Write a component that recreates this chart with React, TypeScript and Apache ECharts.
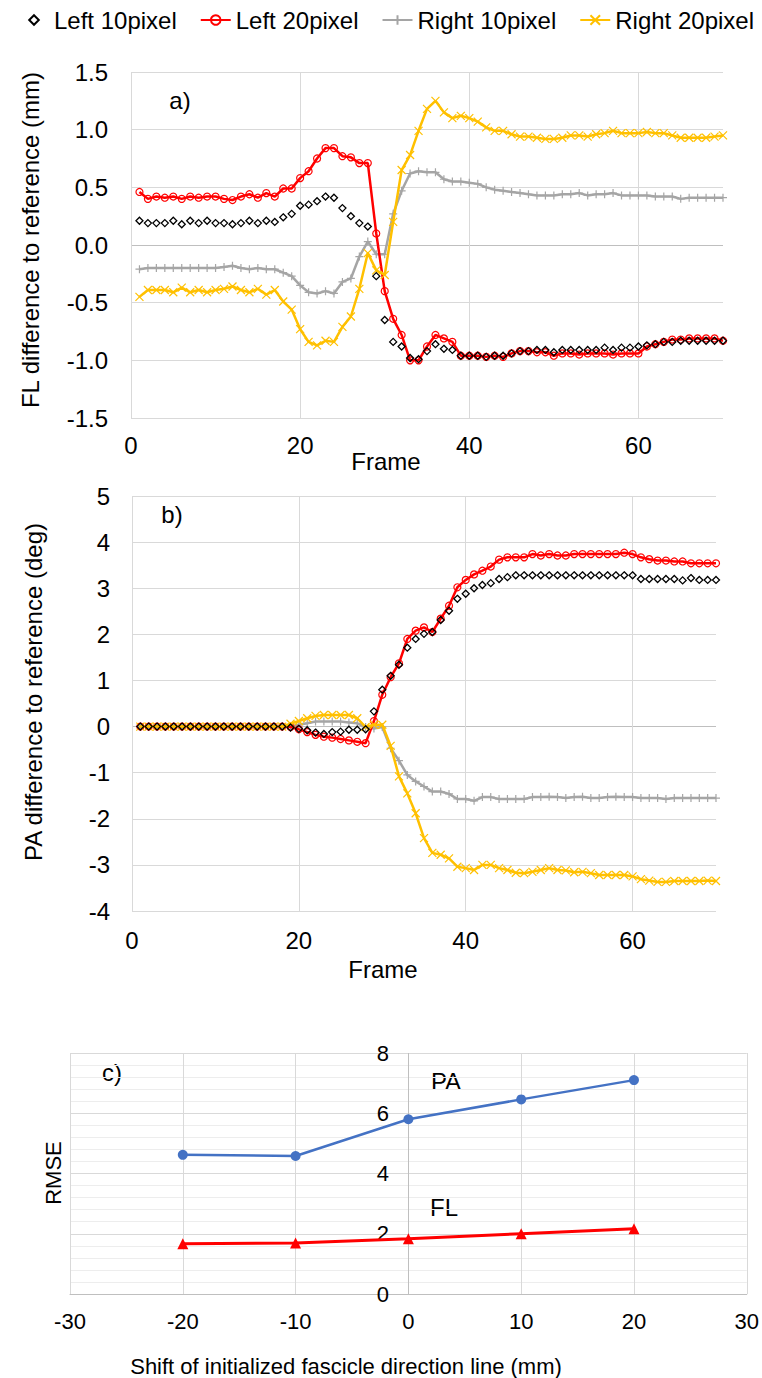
import React, { useEffect, useRef } from "react";
import * as echarts from "echarts";

const FONT = "'Liberation Sans', Arial, sans-serif";

const FRAMES = [
  1, 2, 3, 4, 5, 6, 7, 8, 9, 10, 11, 12, 13, 14, 15, 16, 17, 18, 19, 20,
  21, 22, 23, 24, 25, 26, 27, 28, 29, 30, 31, 32, 33, 34, 35, 36, 37, 38, 39, 40,
  41, 42, 43, 44, 45, 46, 47, 48, 49, 50, 51, 52, 53, 54, 55, 56, 57, 58, 59, 60,
  61, 62, 63, 64, 65, 66, 67, 68, 69, 70,
];

const SERIES_NAMES = ["Left 10pixel", "Left 20pixel", "Right 10pixel", "Right 20pixel"];

// a) FL difference to reference (mm)
const FL_L10 = [
  0.21, 0.19, 0.19, 0.19, 0.21, 0.18, 0.21, 0.19, 0.21, 0.19,
  0.19, 0.18, 0.19, 0.21, 0.19, 0.21, 0.2, 0.24, 0.27, 0.34,
  0.35, 0.38, 0.42, 0.41, 0.32, 0.25, 0.19, 0.16, -0.27, -0.65,
  -0.84, -0.88, -0.98, -0.99, -0.92, -0.86, -0.9, -0.91, -0.96, -0.96,
  -0.96, -0.97, -0.96, -0.96, -0.94, -0.92, -0.92, -0.91, -0.91, -0.93,
  -0.91, -0.91, -0.91, -0.91, -0.91, -0.89, -0.91, -0.89, -0.89, -0.88,
  -0.87, -0.86, -0.84, -0.84, -0.83, -0.83, -0.83, -0.83, -0.83, -0.83,
];
const FL_L20 = [
  0.46, 0.4, 0.42, 0.41, 0.42, 0.4, 0.42, 0.41, 0.42, 0.42,
  0.4, 0.39, 0.42, 0.44, 0.41, 0.45, 0.42, 0.49, 0.49, 0.58,
  0.64, 0.75, 0.84, 0.84, 0.77, 0.76, 0.71, 0.71, 0.1, -0.4,
  -0.64, -0.78, -1.0, -1.0, -0.88, -0.78, -0.81, -0.84, -0.96, -0.96,
  -0.96, -0.97, -0.96, -0.97, -0.94, -0.92, -0.92, -0.93, -0.93, -0.96,
  -0.94, -0.94, -0.95, -0.94, -0.94, -0.94, -0.95, -0.94, -0.94, -0.94,
  -0.88, -0.86, -0.84, -0.82, -0.82, -0.81, -0.81, -0.81, -0.81, -0.83,
];
const FL_R10 = [
  -0.21, -0.2, -0.2, -0.2, -0.2, -0.2, -0.2, -0.2, -0.2, -0.2,
  -0.19, -0.18, -0.2, -0.21, -0.2, -0.21, -0.21, -0.24, -0.27, -0.35,
  -0.41, -0.42, -0.4, -0.42, -0.32, -0.29, -0.1, 0.03, -0.08, -0.08,
  0.27, 0.47, 0.62, 0.64, 0.63, 0.63, 0.57, 0.55, 0.55, 0.54,
  0.53, 0.5, 0.48, 0.47, 0.46, 0.45, 0.44, 0.43, 0.43, 0.43,
  0.44, 0.44, 0.45, 0.43, 0.44, 0.44, 0.45, 0.43, 0.43, 0.43,
  0.43, 0.42, 0.42, 0.42, 0.4, 0.41, 0.41, 0.41, 0.41, 0.41,
];
const FL_R20 = [
  -0.45, -0.39, -0.39, -0.39, -0.41, -0.37, -0.41, -0.39, -0.41, -0.39,
  -0.38, -0.36, -0.39, -0.41, -0.38, -0.43, -0.39, -0.49, -0.56, -0.73,
  -0.84, -0.87, -0.83, -0.84, -0.71, -0.62, -0.38, -0.07, -0.22, -0.26,
  0.2, 0.65, 0.78, 0.99, 1.18, 1.25, 1.15, 1.1, 1.12, 1.1,
  1.07, 1.02, 0.99, 0.99, 0.96, 0.94, 0.94, 0.93, 0.92, 0.92,
  0.93, 0.95, 0.95, 0.94, 0.96, 0.97, 0.99, 0.97, 0.97, 0.97,
  0.98, 0.97, 0.97, 0.95, 0.93, 0.93, 0.93, 0.93, 0.94, 0.95,
];

// b) PA difference to reference (deg)
const PA_L10 = [
  0, 0, 0, 0, 0, 0, 0, 0, 0, 0,
  0, 0, 0, 0, 0, 0, 0, 0, -0.02, -0.05,
  -0.08, -0.13, -0.16, -0.12, -0.11, -0.07, -0.07, -0.06, 0.33, 0.8,
  1.1, 1.34, 1.71, 1.9, 2.01, 2.05, 2.31, 2.51, 2.77, 2.88,
  3.0, 3.07, 3.11, 3.2, 3.24, 3.28, 3.28, 3.28, 3.28, 3.28,
  3.28, 3.28, 3.28, 3.28, 3.28, 3.28, 3.28, 3.28, 3.28, 3.28,
  3.2, 3.2, 3.2, 3.2, 3.2, 3.17, 3.22, 3.18, 3.18, 3.18,
];
const PA_L20 = [
  0, 0, 0, 0, 0, 0, 0, 0, 0, 0,
  0, 0, 0, 0, 0, 0, 0, 0, -0.01, -0.06,
  -0.12, -0.18, -0.22, -0.24, -0.27, -0.3, -0.33, -0.36, 0.12, 0.69,
  1.07, 1.37, 1.9, 2.08, 2.15, 2.05, 2.34, 2.62, 3.02, 3.18,
  3.3, 3.38, 3.47, 3.62, 3.67, 3.67, 3.67, 3.74, 3.71, 3.74,
  3.71, 3.71, 3.74, 3.74, 3.74, 3.74, 3.74, 3.74, 3.77, 3.74,
  3.67, 3.63, 3.6, 3.6, 3.58, 3.58, 3.54, 3.54, 3.54, 3.54,
];
const PA_R10 = [
  0, 0, 0, 0, 0, 0, 0, 0, 0, 0,
  0, 0, 0, 0, 0, 0, 0, 0, 0, 0.04,
  0.07, 0.11, 0.11, 0.11, 0.11, 0.09, 0.07, -0.01, -0.04, -0.01,
  -0.47, -0.74, -1.05, -1.19, -1.3, -1.41, -1.41, -1.46, -1.57, -1.57,
  -1.61, -1.53, -1.53, -1.57, -1.57, -1.57, -1.57, -1.53, -1.53, -1.52,
  -1.53, -1.55, -1.53, -1.52, -1.55, -1.55, -1.53, -1.52, -1.53, -1.53,
  -1.55, -1.55, -1.55, -1.57, -1.55, -1.55, -1.55, -1.55, -1.55, -1.55,
];
const PA_R20 = [
  0, 0, 0, 0, 0, 0, 0, 0, 0, 0,
  0, 0, 0, 0, 0, 0, 0, 0, 0.06, 0.12,
  0.18, 0.23, 0.25, 0.25, 0.25, 0.25, 0.18, -0.01, 0.04, 0.04,
  -0.42, -1.08, -1.45, -1.88, -2.42, -2.74, -2.78, -2.86, -3.04, -3.07,
  -3.11, -3.0, -3.0, -3.07, -3.11, -3.17, -3.18, -3.15, -3.11, -3.07,
  -3.11, -3.12, -3.16, -3.15, -3.18, -3.22, -3.22, -3.22, -3.22, -3.25,
  -3.31, -3.34, -3.37, -3.37, -3.35, -3.35, -3.35, -3.35, -3.34, -3.35,
];

// c) RMSE vs shift
const SHIFT = [-20, -10, 0, 10, 20];
const PA_RMSE = [4.62, 4.58, 5.8, 6.46, 7.1];
const FL_RMSE = [1.67, 1.69, 1.83, 2.0, 2.17];

const PLUS = "path://M5,0L5,10M0,5L10,5";
const CROSS = "path://M0,0L10,10M10,0L0,10";

const pairs = (ys: number[]) => FRAMES.map((f, i) => [f, ys[i]]);

function styledSeries(idx: number, xi: number, ys: number[]) {
  const base: any = {
    type: "line",
    name: SERIES_NAMES[idx],
    xAxisIndex: xi,
    yAxisIndex: xi,
    data: pairs(ys),
    showSymbol: true,
    showAllSymbol: true,
    animation: false,
  };
  if (idx === 0) {
    return {
      ...base,
      symbol: "diamond",
      symbolSize: 7,
      itemStyle: { color: "rgba(0,0,0,0)", borderColor: "#000", borderWidth: 1.3 },
      lineStyle: { width: 0, color: "#000", opacity: 0 },
      z: 5,
    };
  }
  if (idx === 1) {
    return {
      ...base,
      symbol: "circle",
      symbolSize: 7,
      itemStyle: { color: "rgba(0,0,0,0)", borderColor: "#ff0000", borderWidth: 1.2 },
      lineStyle: { width: 2.5, color: "#ff0000" },
      z: 3,
    };
  }
  if (idx === 2) {
    return {
      ...base,
      symbol: PLUS,
      symbolSize: 8,
      itemStyle: { color: "rgba(0,0,0,0)", borderColor: "#a5a5a5", borderWidth: 1.2 },
      lineStyle: { width: 2.5, color: "#a5a5a5" },
      z: 2,
    };
  }
  return {
    ...base,
    symbol: CROSS,
    symbolSize: 8,
    itemStyle: { color: "rgba(0,0,0,0)", borderColor: "#ffc000", borderWidth: 1.2 },
    lineStyle: { width: 2.5, color: "#ffc000" },
    z: 4,
  };
}

const GRID = "#d9d9d9";
const ZERO = "#bfbfbf";

function zeroColors(ticks: number[]) {
  return ticks.map((t) => (t === 0 ? ZERO : GRID));
}

const A_TICKS = [-1.5, -1, -0.5, 0, 0.5, 1, 1.5];
const B_TICKS = [-4, -3, -2, -1, 0, 1, 2, 3, 4, 5];
const C_XTICKS = [-30, -20, -10, 0, 10, 20, 30];

function txt(text: string, x: number, y: number, size: number, rot = 0) {
  return {
    type: "text",
    x,
    y,
    rotation: rot,
    silent: true,
    style: {
      text,
      fill: "#000",
      font: `${size}px ${FONT}`,
      align: "center",
      verticalAlign: "middle",
    },
  };
}

export default function App() {
  const ref = useRef<HTMLDivElement>(null);

  useEffect(() => {
    document.body.style.margin = "0";
    if (!ref.current) return;
    const chart = echarts.init(ref.current, undefined, { renderer: "svg" });

    const labelStyle = { color: "#000", fontSize: 24, fontFamily: FONT };
    const C_LEFT = 70;
    const C_WIDTH = 678;

    const option: any = {
      animation: false,
      backgroundColor: "#fff",
      textStyle: { fontFamily: FONT },
      legend: {
        data: SERIES_NAMES,
        left: 19,
        top: 8,
        width: 743,
        padding: 0,
        itemWidth: 30,
        itemHeight: 12,
        itemGap: 23,
        selectedMode: false,
        textStyle: { color: "#000", fontSize: 24, fontFamily: FONT },
      },
      grid: [
        { left: 131, top: 72, width: 592, height: 346 },
        { left: 132, top: 496, width: 584, height: 415 },
        { left: C_LEFT, top: 1053, width: C_WIDTH, height: 241 },
      ],
      xAxis: [
        {
          gridIndex: 0,
          type: "value",
          min: 0,
          max: 70,
          interval: 20,
          axisLine: { show: false },
          axisTick: { show: false },
          axisLabel: { ...labelStyle, margin: 15, showMaxLabel: false },
          splitLine: { show: true, showMaxLine: false, lineStyle: { color: GRID, width: 1 } },
        },
        {
          gridIndex: 1,
          type: "value",
          min: 0,
          max: 70,
          interval: 20,
          axisLine: { show: false },
          axisTick: { show: false },
          axisLabel: { ...labelStyle, margin: 17, showMaxLabel: false },
          splitLine: { show: true, showMaxLine: false, lineStyle: { color: GRID, width: 1 } },
        },
        {
          gridIndex: 2,
          type: "value",
          min: -30,
          max: 30,
          interval: 10,
          axisLine: { show: true, onZero: false, lineStyle: { color: ZERO, width: 1 } },
          axisTick: { show: false },
          axisLabel: { color: "#000", fontSize: 22, fontFamily: FONT, margin: 16 },
          splitLine: { show: true, lineStyle: { color: zeroColors(C_XTICKS), width: 1 } },
        },
      ],
      yAxis: [
        {
          gridIndex: 0,
          type: "value",
          min: -1.5,
          max: 1.5,
          interval: 0.5,
          axisLine: { show: false },
          axisTick: { show: false },
          axisLabel: { ...labelStyle, margin: 23, formatter: (v: number) => v.toFixed(1) },
          splitLine: { show: true, lineStyle: { color: zeroColors(A_TICKS), width: 1 } },
        },
        {
          gridIndex: 1,
          type: "value",
          min: -4,
          max: 5,
          interval: 1,
          axisLine: { show: false },
          axisTick: { show: false },
          axisLabel: { ...labelStyle, margin: 22 },
          splitLine: { show: true, lineStyle: { color: zeroColors(B_TICKS), width: 1 } },
        },
        {
          gridIndex: 2,
          type: "value",
          min: 0,
          max: 8,
          interval: 2,
          axisLine: { show: false },
          axisTick: { show: false },
          minorTick: { show: false, splitNumber: 5 },
          minorSplitLine: { show: true, lineStyle: { color: "#ededed", width: 1 } },
          // labels sit beside the vertical axis at x = 0 (grid centre), 20px to its left
          axisLabel: {
            color: "#000",
            fontSize: 22,
            fontFamily: FONT,
            margin: -(C_WIDTH / 2 - 20),
          },
          splitLine: { show: true, lineStyle: { color: GRID, width: 1 } },
        },
      ],
      series: [
        styledSeries(0, 0, FL_L10),
        styledSeries(1, 0, FL_L20),
        styledSeries(2, 0, FL_R10),
        styledSeries(3, 0, FL_R20),
        styledSeries(0, 1, PA_L10),
        styledSeries(1, 1, PA_L20),
        styledSeries(2, 1, PA_R10),
        styledSeries(3, 1, PA_R20),
        {
          type: "line",
          name: "PA",
          xAxisIndex: 2,
          yAxisIndex: 2,
          data: SHIFT.map((s, i) => [s, PA_RMSE[i]]),
          symbol: "circle",
          symbolSize: 10,
          itemStyle: { color: "#4472c4" },
          lineStyle: { color: "#4472c4", width: 2.5 },
        },
        {
          type: "line",
          name: "FL",
          xAxisIndex: 2,
          yAxisIndex: 2,
          data: SHIFT.map((s, i) => [s, FL_RMSE[i]]),
          symbol: "triangle",
          symbolSize: 11,
          itemStyle: { color: "#ff0000" },
          lineStyle: { color: "#ff0000", width: 3 },
        },
      ],
      graphic: [
        txt("FL difference to reference (mm)", 30, 240, 24, Math.PI / 2),
        txt("Frame", 386, 461, 24),
        txt("a)", 180, 100, 24),
        txt("PA difference to reference (deg)", 33, 692, 24, Math.PI / 2),
        txt("Frame", 383, 969, 24),
        txt("b)", 172, 514, 24),
        txt("c)", 112, 1072, 24),
        txt("PA", 446, 1081, 24),
        txt("FL", 444, 1207, 24),
        txt("RMSE", 53, 1173, 22, Math.PI / 2),
        txt("Shift of initialized fascicle direction line (mm)", 346, 1366, 22),
      ],
    };

    chart.setOption(option);
    return () => chart.dispose();
  }, []);

  return <div ref={ref} style={{ width: 762, height: 1378 }} />;
}
